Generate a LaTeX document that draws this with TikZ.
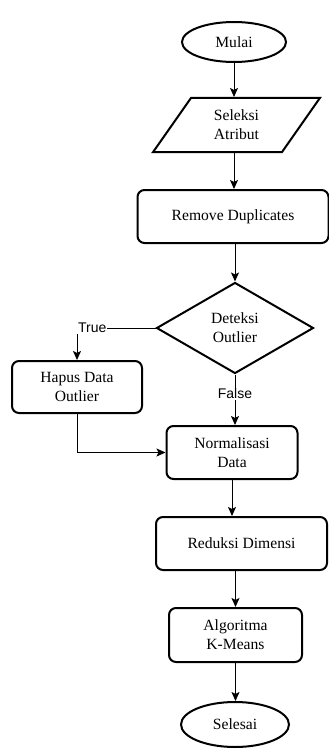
\documentclass[tikz,border=0pt]{standalone}
\usepackage{fontspec}
\setmainfont{Liberation Serif}
\setsansfont{Liberation Sans}
\usetikzlibrary{shapes.geometric, arrows.meta}

\begin{document}
\begin{tikzpicture}[x=1pt, y=-1pt, align=center,
    font=\fontsize{15.6}{19}\selectfont,
    terminal/.style={draw=black, line width=2pt, ellipse, inner sep=0pt},
    proses/.style={draw=black, line width=2pt, rectangle, rounded corners=7pt, inner sep=0pt},
    io/.style={draw=black, line width=2pt, trapezium, trapezium left angle=58, trapezium right angle=122, trapezium stretches=true, inner sep=0pt},
    keputusan/.style={draw=black, line width=2pt, diamond, inner sep=0pt},
    panah/.style={draw=black, line width=1pt, -{Stealth[length=9pt, width=8pt, inset=2pt]}},
    ket/.style={font=\sffamily\fontsize{14}{16}\selectfont, fill=white, inner sep=1pt}]
      \useasboundingbox (0,0) rectangle (329,749);
      \node[terminal, minimum width=104pt, minimum height=40pt] (Mulai) at (234,42) {Mulai};
      \node[io, minimum width=167pt, minimum height=54pt] (Seleksi) at (236.5,125) {Seleksi\\Atribut};
      \node[proses, minimum width=191pt, minimum height=53pt] (Remove) at (233,216.5) {Remove Duplicates};
      \node[keputusan, minimum width=157pt, minimum height=91pt] (Deteksi) at (235,328) {Deteksi\\Outlier};
      %
      \node[proses, minimum width=130pt, minimum height=52pt] (Hapus) at (77,387) {Hapus Data\\Outlier};
      \node[proses, minimum width=131pt, minimum height=53pt] (Normal) at (232,452.5) {Normalisasi\\Data};
      \node[proses, minimum width=171pt, minimum height=53pt] (Reduksi) at (241.5,543.5) {Reduksi Dimensi};
      \node[proses, minimum width=133pt, minimum height=54pt] (Algo) at (235.5,635) {Algoritma\\K-Means};
      \node[terminal, minimum width=108pt, minimum height=45pt] (Selesai) at (235,724.5) {Selesai};
      %
      \draw[panah] (Mulai.south) -- (Mulai.south |- Seleksi.north);
      \draw[panah] (Seleksi.south -| Mulai.south) -- (Mulai.south |- Remove.north);
      \draw[panah] (Remove.south -| Deteksi.north) -- (Deteksi.north);
      \draw[panah] (Deteksi.west) -- (Deteksi.west -| Hapus.north) -- (Hapus.north);
      \node[ket, anchor=west] (LblTrue) at (Deteksi.west -| Hapus.north) {True};
      \draw[panah] (Deteksi.south) -- node[ket, pos=0.38] (LblFalse) {False} (Deteksi.south |- Normal.north);
      \draw[panah] (Hapus.south) -- (Hapus.south |- Normal.west) -- (Normal.west);
      %
      \draw[panah] (Normal.south) -- (Normal.south |- Reduksi.north);
      \draw[panah] (Algo.north |- Reduksi.south) -- (Algo.north);
      \draw[panah] (Algo.south) -- (Algo.south |- Selesai.north);
    \end{tikzpicture}
\end{document}
